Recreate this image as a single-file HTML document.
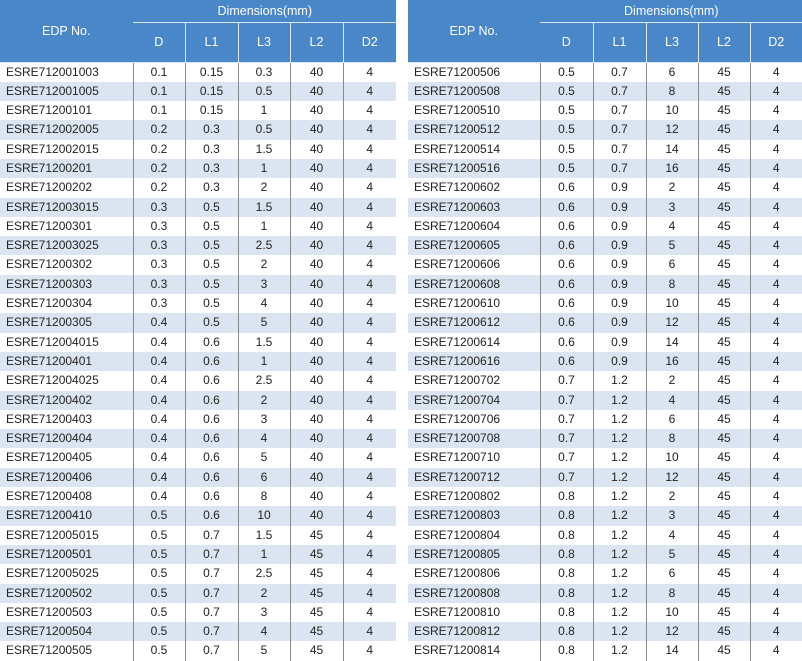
<!DOCTYPE html><html><head><style>
body{margin:0;width:802px;height:657px;overflow:hidden;background:#fff;font-family:"Liberation Sans",sans-serif;}
table{position:absolute;top:0;border-collapse:collapse;table-layout:fixed;font-size:12px;color:#222;}
th{background:#4a87c9;color:#fff;font-weight:normal;border-left:1px solid #dbe6f3;border-bottom:1px solid #dbe6f3;padding:0;font-size:12.5px}
th:first-child{border-left:none}
td{height:19.3px;line-height:19.3px;padding:0;text-align:center;border-left:1px solid #888;white-space:nowrap;overflow:hidden}
tbody tr{height:19.3px}
td:first-child{text-align:left;padding-left:6px;border-left:none}
tr.s td{background:#dbe5f1}
</style></head><body>
<table id="a" style="left:0;width:396px"><colgroup><col style="width:133px"><col style="width:52px"><col style="width:53px"><col style="width:52px"><col style="width:53px"><col style="width:53px"></colgroup>
<tr style="height:22px"><th rowspan="2">EDP No.</th><th colspan="5" style="border-left:1px solid #4a87c9">Dimensions(mm)</th></tr>
<tr style="height:40px"><th>D</th><th>L1</th><th>L3</th><th>L2</th><th>D2</th></tr>
<tbody id="lb"></tbody></table>
<table style="left:408px;width:394px"><colgroup><col style="width:132px"><col style="width:53px"><col style="width:53px"><col style="width:52px"><col style="width:52px"><col style="width:52px"></colgroup>
<tr style="height:22px"><th rowspan="2">EDP No.</th><th colspan="5" style="border-left:1px solid #4a87c9">Dimensions(mm)</th></tr>
<tr style="height:40px"><th>D</th><th>L1</th><th>L3</th><th>L2</th><th>D2</th></tr>
<tbody id="rb"></tbody></table>
<script>
var L=`ESRE712001003 0.1 0.15 0.3 40 4
ESRE712001005 0.1 0.15 0.5 40 4
ESRE71200101 0.1 0.15 1 40 4
ESRE712002005 0.2 0.3 0.5 40 4
ESRE712002015 0.2 0.3 1.5 40 4
ESRE71200201 0.2 0.3 1 40 4
ESRE71200202 0.2 0.3 2 40 4
ESRE712003015 0.3 0.5 1.5 40 4
ESRE71200301 0.3 0.5 1 40 4
ESRE712003025 0.3 0.5 2.5 40 4
ESRE71200302 0.3 0.5 2 40 4
ESRE71200303 0.3 0.5 3 40 4
ESRE71200304 0.3 0.5 4 40 4
ESRE71200305 0.4 0.5 5 40 4
ESRE712004015 0.4 0.6 1.5 40 4
ESRE71200401 0.4 0.6 1 40 4
ESRE712004025 0.4 0.6 2.5 40 4
ESRE71200402 0.4 0.6 2 40 4
ESRE71200403 0.4 0.6 3 40 4
ESRE71200404 0.4 0.6 4 40 4
ESRE71200405 0.4 0.6 5 40 4
ESRE71200406 0.4 0.6 6 40 4
ESRE71200408 0.4 0.6 8 40 4
ESRE71200410 0.5 0.6 10 40 4
ESRE712005015 0.5 0.7 1.5 45 4
ESRE71200501 0.5 0.7 1 45 4
ESRE712005025 0.5 0.7 2.5 45 4
ESRE71200502 0.5 0.7 2 45 4
ESRE71200503 0.5 0.7 3 45 4
ESRE71200504 0.5 0.7 4 45 4
ESRE71200505 0.5 0.7 5 45 4`;
var R=`ESRE71200506 0.5 0.7 6 45 4
ESRE71200508 0.5 0.7 8 45 4
ESRE71200510 0.5 0.7 10 45 4
ESRE71200512 0.5 0.7 12 45 4
ESRE71200514 0.5 0.7 14 45 4
ESRE71200516 0.5 0.7 16 45 4
ESRE71200602 0.6 0.9 2 45 4
ESRE71200603 0.6 0.9 3 45 4
ESRE71200604 0.6 0.9 4 45 4
ESRE71200605 0.6 0.9 5 45 4
ESRE71200606 0.6 0.9 6 45 4
ESRE71200608 0.6 0.9 8 45 4
ESRE71200610 0.6 0.9 10 45 4
ESRE71200612 0.6 0.9 12 45 4
ESRE71200614 0.6 0.9 14 45 4
ESRE71200616 0.6 0.9 16 45 4
ESRE71200702 0.7 1.2 2 45 4
ESRE71200704 0.7 1.2 4 45 4
ESRE71200706 0.7 1.2 6 45 4
ESRE71200708 0.7 1.2 8 45 4
ESRE71200710 0.7 1.2 10 45 4
ESRE71200712 0.7 1.2 12 45 4
ESRE71200802 0.8 1.2 2 45 4
ESRE71200803 0.8 1.2 3 45 4
ESRE71200804 0.8 1.2 4 45 4
ESRE71200805 0.8 1.2 5 45 4
ESRE71200806 0.8 1.2 6 45 4
ESRE71200808 0.8 1.2 8 45 4
ESRE71200810 0.8 1.2 10 45 4
ESRE71200812 0.8 1.2 12 45 4
ESRE71200814 0.8 1.2 14 45 4`;
function f(s,id){var h='';s.split('\n').forEach(function(l,i){h+='<tr'+(i%2?' class="s"':'')+'>'+l.split(' ').map(function(c){return '<td>'+c+'</td>'}).join('')+'</tr>'});document.getElementById(id).innerHTML=h;}
f(L,'lb');f(R,'rb');
</script>
</body></html>
